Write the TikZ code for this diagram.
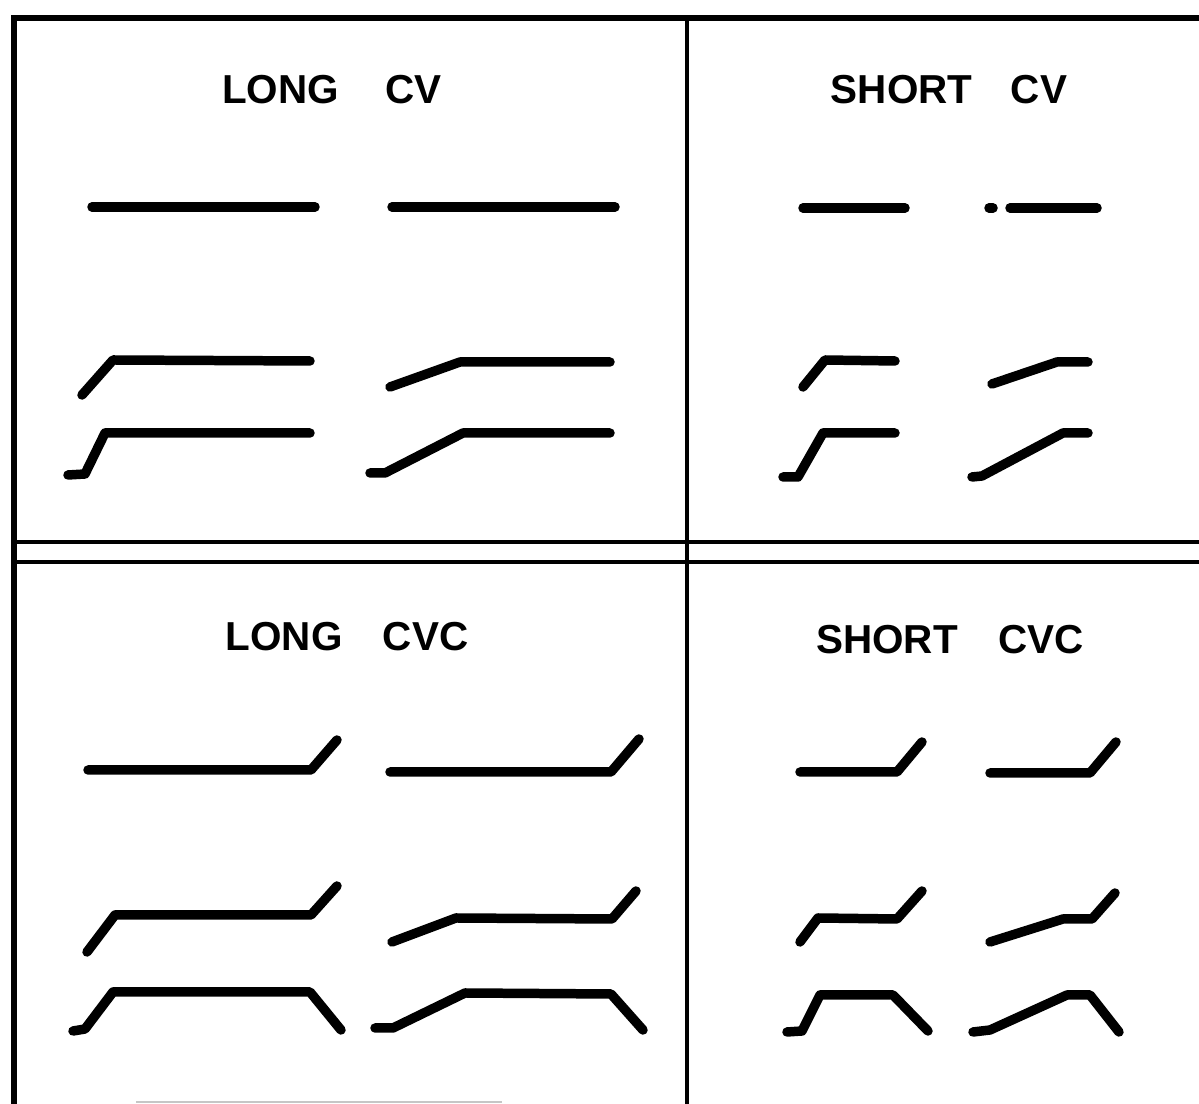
\documentclass[tikz,border=0pt]{standalone}
\usepackage{fontspec}
\setmainfont{Liberation Sans}
\begin{document}
\begin{tikzpicture}[x=0.01cm, y=-0.01cm,
    frame/.style={line width=1.4pt},
    contour/.style={line width=2.7pt, line cap=round, line join=round},
    title/.style={font=\fontsize{11.5}{13}\selectfont\bfseries, inner sep=0pt}]
  \useasboundingbox (0,0) rectangle (1199,1104);
  % frame
  \draw[frame, line width=1.7pt] (14,1104) -- (14,18) -- (1199,18);
  \draw[frame] (687,18) -- (687,1104);
  \draw[frame] (14,542) -- (1199,542);
  \draw[frame] (14,562) -- (1199,562);
  \draw[line width=0.8pt, gray!45] (136,1102) -- (502,1102);
  % titles
  \node[title] (longcv) at (332,90) {LONG\hspace{1.15em}CV};
  \node[title] (shortcv) at (949,90) {SHORT\hspace{0.95em}CV};
  \node[title] (longcvc) at (347,637) {LONG\hspace{1em}CVC};
  \node[title] (shortcvc) at (950,640) {SHORT\hspace{1em}CVC};
  % long cv
  \draw[contour] (92,207) -- (315,207);
  \draw[contour] (392,207) -- (615,207);
  \draw[contour] (82,395) -- (113,360) -- (310,361);
  \draw[contour] (390,387) -- (460,362) -- (610,362);
  \draw[contour] (68,475) -- (85,474) -- (105,433) -- (310,433);
  \draw[contour] (370,473) -- (385,473) -- (463,433) -- (610,433);
  % short cv
  \draw[contour] (803,208) -- (905,208);
  \draw[contour] (989,208) -- (993,208);
  \draw[contour] (1010,208) -- (1097,208);
  \draw[contour] (803,387) -- (825,360) -- (895,361);
  \draw[contour] (992,384) -- (1057,362) -- (1088,362);
  \draw[contour] (783,477) -- (798,477) -- (823,433) -- (895,433);
  \draw[contour] (972,477) -- (982,476) -- (1063,433) -- (1088,433);
  % long cvc
  \draw[contour] (88,770) -- (311,770) -- (337,740);
  \draw[contour] (390,772) -- (611,772) -- (639,739);
  \draw[contour] (87,952) -- (115,915) -- (311,915) -- (337,886);
  \draw[contour] (392,942) -- (456,918) -- (612,919) -- (636,891);
  \draw[contour] (73,1031) -- (85,1029) -- (113,992) -- (310,992) -- (341,1030);
  \draw[contour] (375,1028) -- (393,1028) -- (465,993) -- (611,994) -- (643,1030);
  % short cvc
  \draw[contour] (800,772) -- (897,772) -- (922,742);
  \draw[contour] (990,773) -- (1090,773) -- (1116,742);
  \draw[contour] (800,942) -- (818,918) -- (897,919) -- (922,891);
  \draw[contour] (990,942) -- (1063,919) -- (1092,919) -- (1115,893);
  \draw[contour] (787,1032) -- (802,1031) -- (820,995) -- (893,995) -- (928,1031);
  \draw[contour] (973,1032) -- (990,1030) -- (1067,995) -- (1090,995) -- (1119,1032);
\end{tikzpicture}
\end{document}
